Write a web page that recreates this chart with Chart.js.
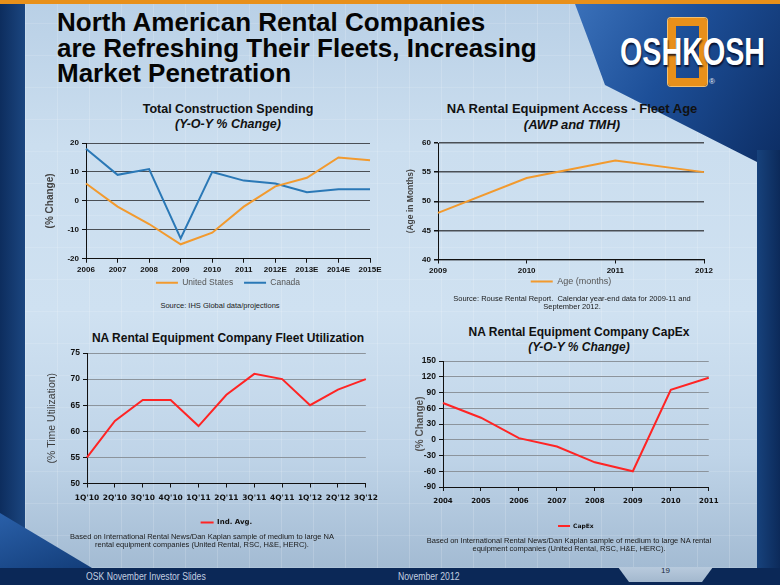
<!DOCTYPE html>
<html>
<head>
<meta charset="utf-8">
<script src="https://cdn.jsdelivr.net/npm/chart.js@4.4.0/dist/chart.umd.min.js"></script>
<style>
html, body { margin: 0; padding: 0; }
body {
    width: 780px; height: 585px; position: relative; overflow: hidden;
    background: #0b2857;
    font-family: "Liberation Sans", Arial, sans-serif;
}
.abs { position: absolute; }
#left_stripe { left: 0; top: 0; width: 25px; height: 568px; background: linear-gradient(90deg, #0d2d5e, #1b4680); }
#panel {
    left: 25px; top: 4px; width: 732px; height: 564px;
    background:
        repeating-linear-gradient(90deg, rgba(255,255,255,0.16) 0 1px, transparent 1px 32px),
        repeating-linear-gradient(0deg, rgba(255,255,255,0.12) 0 1px, transparent 1px 32px),
        linear-gradient(180deg, #b9d0e6 0%, #cbdeef 25%, #cfe1f1 55%, #bfd4e8 80%, #a3bbd3 100%);
}
#swoosh {
    left: 560px; top: 4px; width: 220px; height: 170px;
    background: linear-gradient(120deg, #3d74bd 0%, #1d4f98 45%, #0c2c62 100%);
    clip-path: polygon(15px 0, 30px 40px, 45px 81px, 197px 158px, 220px 158px, 220px 0);
}
#right_stripe { left: 757px; top: 150px; width: 23px; height: 418px; background: linear-gradient(90deg, #17427c, #0c2a5a); }
#corner {
    left: 0; top: 505px; width: 100px; height: 63px;
    background: linear-gradient(160deg, #2c63ad, #123c78);
    clip-path: polygon(0 8px, 92px 63px, 0 63px);
}
#topbar { left: 0; top: 0; width: 780px; height: 4px; background: #e8901a; }
#footer { left: 0; top: 568px; width: 780px; height: 17px; background: #0b2857; }
#tab {
    left: 618px; top: 567px; width: 95px; height: 15px;
    background: linear-gradient(180deg, #b8cadd, #a3b8ce);
    clip-path: polygon(0 0, 95px 0, 84px 15px, 11px 15px);
}
#page_no { left: 618px; top: 567px; width: 95px; text-align: center; font-size: 8px; color: #1a2a40; line-height: 8px; }
.foot_text {
    top: 572px; font-size: 10px; color: #c3cfe0; line-height: 10px; white-space: nowrap;
    transform: scaleX(0.865); transform-origin: 0 0;
}
#main_title {
    left: 57px; top: 10px; font-weight: bold; font-size: 26px; line-height: 25.5px; color: #050505;
    white-space: nowrap;
}
#logo_frame {
    left: 668px; top: 18px; width: 39px; height: 68px; box-sizing: border-box;
    border: 8px solid #e8901a; border-radius: 3px;
    box-shadow: 0 0 0 1px #f3c070;
}
#logo_text {
    left: 620px; top: 33px; font-weight: bold; font-size: 38px; line-height: 38px; color: #ffffff;
    transform: scaleX(0.755); transform-origin: 0 0;
    text-shadow: 1px 2px 2px rgba(0,0,20,0.8);
}
#logo_r { left: 709px; top: 77px; font-size: 8px; color: #e8eef6; }
.chart_title { text-align: center; font-weight: bold; color: #111; white-space: nowrap; }
.source { text-align: center; font-size: 7.5px; line-height: 8.3px; color: #1a1a1a; white-space: nowrap; }
canvas { position: absolute; }
</style>
</head>
<body>
<div id="panel" class="abs"></div>
<div id="left_stripe" class="abs"></div>
<div id="swoosh" class="abs"></div>
<div id="right_stripe" class="abs"></div>
<div id="corner" class="abs"></div>
<div id="topbar" class="abs"></div>
<div id="footer" class="abs"></div>
<div id="tab" class="abs"></div>
<div id="page_no" class="abs">19</div>
<div class="abs foot_text" style="left:86px;">OSK November Investor Slides</div>
<div class="abs foot_text" style="left:398px;">November 2012</div>

<div id="main_title" class="abs">North American Rental Companies<br>are Refreshing Their Fleets, Increasing<br>Market Penetration</div>
<div id="logo_frame" class="abs"></div>
<div id="logo_text" class="abs">OSHKOSH</div>
<div id="logo_r" class="abs">®</div>

<div class="abs chart_title" style="left:78px; width:300px; top:102px; font-size:12.5px; line-height:15px;">Total Construction Spending<br><i>(Y-O-Y % Change)</i></div>
<div class="abs chart_title" style="left:422px; width:300px; top:101px; font-size:13px; line-height:16px;">NA Rental Equipment Access - Fleet Age<br><i>(AWP and TMH)</i></div>
<div class="abs chart_title" style="left:78px; width:300px; top:331px; font-size:12px; line-height:15px;">NA Rental Equipment Company Fleet Utilization</div>
<div class="abs chart_title" style="left:429px; width:300px; top:325px; font-size:12px; line-height:15px;">NA Rental Equipment Company CapEx<br><i>(Y-O-Y % Change)</i></div>

<canvas id="spending_chart" width="348" height="164" style="left:38px; top:133px;"></canvas>
<canvas id="age_chart" width="316" height="163" style="left:400px; top:133px;"></canvas>
<canvas id="util_chart" width="344" height="193" style="left:40px; top:343px;"></canvas>
<canvas id="capex_chart" width="316" height="188" style="left:408px; top:351px;"></canvas>

<div class="abs source" style="left:70px; width:300px; top:302px;">Source: IHS Global data/projections</div>
<div class="abs source" style="left:422px; width:300px; top:295px;">Source: Rouse Rental Report.&nbsp; Calendar year-end data for 2009-11 and<br>September 2012.</div>
<div class="abs source" style="left:52px; width:300px; top:533px;">Based on International Rental News/Dan Kaplan sample of medium to large NA<br>rental equipment companies (United Rental, RSC, H&amp;E, HERC).</div>
<div class="abs source" style="left:419px; width:300px; top:537px;">Based on International Rental News/Dan Kaplan sample of medium to large NA rental<br>equipment companies (United Rental, RSC, H&amp;E, HERC).</div>

<script>
// Chart data
const spending_years = ["2006", "2007", "2008", "2009", "2010", "2011", "2012E", "2013E", "2014E", "2015E"];
const us_spending = [6, -2, -8, -15, -11, -2, 5, 8, 15, 14];
const canada_spending = [18, 9, 11, -13, 10, 7, 6, 3, 4, 4];

const age_years = ["2009", "2010", "2011", "2012"];
const fleet_age = [48, 54, 57, 55];

const quarters = ["1Q'10", "2Q'10", "3Q'10", "4Q'10", "1Q'11", "2Q'11", "3Q'11", "4Q'11", "1Q'12", "2Q'12", "3Q'12"];
const utilization = [55, 62, 66, 66, 61, 67, 71, 70, 65, 68, 70];

const capex_years = ["2004", "2005", "2006", "2007", "2008", "2009", "2010", "2011"];
const capex_change = [70, 42, 3, -13, -43, -60, 95, 118];

const ORANGE = '#f29a2e';
const BLUE = '#2a78b6';
const RED = '#ff2424';

const line_set = (label, values, color) => ({
    label: label,
    data: values,
    borderColor: color,
    backgroundColor: color,
    borderWidth: 2,
    pointRadius: 0,
    tension: 0,
    fill: false
});

// legend items with some extra room after every item but the last
const spaced_labels = (gap) => (chart) => {
    let items = Chart.defaults.plugins.legend.labels.generateLabels(chart);
    items.forEach((item, i) => {
        item.pointStyle = 'line';
        if (i < items.length - 1) item.text += gap;
    });
    return items;
};

// o holds the per-chart look: fonts, grid colours, fixed axis sizes
const make_chart = (id, labels, datasets, o) => {
    let context = document.getElementById(id);
    new Chart(context, {
        type: 'line',
        data: { labels: labels, datasets: datasets },
        options: {
            responsive: false,
            animation: false,
            layout: { padding: o.padding },
            plugins: {
                tooltip: { enabled: false },
                legend: {
                    position: 'bottom',
                    fullSize: false,
                    labels: {
                        usePointStyle: true,
                        pointStyle: 'line',
                        pointStyleWidth: o.legend_line,
                        padding: o.legend_pad,
                        color: o.legend_color,
                        font: o.legend_font,
                        generateLabels: spaced_labels(o.legend_gap || '')
                    }
                }
            },
            scales: {
                x: {
                    offset: false,
                    grid: { drawOnChartArea: false, drawTicks: true, tickLength: 4, color: '#111' },
                    border: { color: '#111', width: 1 },
                    ticks: { color: '#111', font: o.x_font, padding: o.x_pad, maxRotation: 0, autoSkip: false },
                    afterFit: (s) => { s.height = o.x_height; }
                },
                y: {
                    min: o.y_min,
                    max: o.y_max,
                    ticks: { stepSize: o.y_step, color: '#111', font: o.y_font, padding: 3 },
                    grid: { color: o.grid_color, lineWidth: o.grid_width, tickLength: 4, tickColor: '#111' },
                    border: { color: '#111', width: 1 },
                    title: {
                        display: true,
                        text: o.y_title,
                        color: o.y_title_color,
                        font: o.y_title_font,
                        padding: { top: 4, bottom: 4 }
                    },
                    afterFit: (s) => { s.width = o.y_width; }
                }
            }
        }
    });
};

make_chart('spending_chart', spending_years, [
    line_set('United States', us_spending, ORANGE),
    line_set('Canada', canada_spending, BLUE)
], {
    padding: { left: 2, top: 10, right: 16, bottom: 0 },
    legend_line: 22, legend_pad: 3.75, legend_gap: '   ', legend_color: '#555',
    legend_font: { family: 'Liberation Sans', size: 8.5 },
    x_font: { family: 'Liberation Sans', size: 8, weight: 'bold' }, x_pad: 2, x_height: 16,
    y_min: -20, y_max: 20, y_step: 10,
    y_font: { family: 'Liberation Sans', size: 8, weight: 'bold' },
    grid_color: '#4a4f55', grid_width: 1,
    y_title: '(% Change)', y_title_color: '#444',
    y_title_font: { family: 'Liberation Sans', size: 10, weight: 'bold' },
    y_width: 46
});

make_chart('age_chart', age_years, [
    line_set('Age (months)', fleet_age, ORANGE)
], {
    padding: { left: 2, top: 10, right: 12, bottom: 0 },
    legend_line: 22, legend_pad: 1.5, legend_color: '#555',
    legend_font: { family: 'Liberation Sans', size: 9 },
    x_font: { family: 'Liberation Sans', size: 8, weight: 'bold' }, x_pad: 2, x_height: 16,
    y_min: 40, y_max: 60, y_step: 5,
    y_font: { family: 'Liberation Sans', size: 8, weight: 'bold' },
    grid_color: '#4a4f55', grid_width: 1.5,
    y_title: '(Age in Months)', y_title_color: '#444',
    y_title_font: { family: 'Liberation Sans', size: 8.5, weight: 'bold' },
    y_width: 36
});

make_chart('util_chart', quarters, [
    line_set('Ind. Avg.', utilization, RED)
], {
    padding: { left: 2, top: 10, right: 14, bottom: 0 },
    legend_line: 13, legend_pad: 10, legend_color: '#111',
    legend_font: { family: 'DejaVu Sans', size: 7, weight: 'bold' },
    x_font: { family: 'DejaVu Sans', size: 7.5, weight: 'bold' }, x_pad: 6, x_height: 25.5,
    y_min: 50, y_max: 75, y_step: 5,
    y_font: { family: 'Liberation Sans', size: 8.5, weight: 'bold' },
    grid_color: '#8c949c', grid_width: 1,
    y_title: '(% Time Utilization)', y_title_color: '#3a3a3a',
    y_title_font: { family: 'Liberation Sans', size: 10.5 },
    y_width: 45
});

make_chart('capex_chart', capex_years, [
    line_set('CapEx', capex_change, RED)
], {
    padding: { left: 2, top: 10, right: 12, bottom: 0 },
    legend_line: 12, legend_pad: 10, legend_color: '#111',
    legend_font: { family: 'DejaVu Sans', size: 6, weight: 'bold' },
    x_font: { family: 'DejaVu Sans', size: 7, weight: 'bold' }, x_pad: 5.5, x_height: 26,
    y_min: -90, y_max: 150, y_step: 30,
    y_font: { family: 'Liberation Sans', size: 8.5, weight: 'bold' },
    grid_color: '#8c949c', grid_width: 1,
    y_title: '(% Change)', y_title_color: '#555',
    y_title_font: { family: 'Liberation Sans', size: 10, weight: 'bold' },
    y_width: 33
});
</script>
</body>
</html>
